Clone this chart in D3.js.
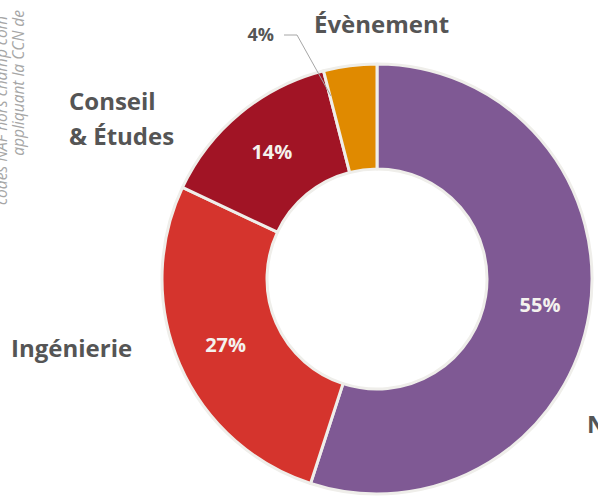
<!DOCTYPE html>
<html><head><meta charset="utf-8">
<script src="https://cdn.jsdelivr.net/npm/d3@7"></script>
<style>html,body{margin:0;padding:0;background:#fff;}svg{display:block;}</style>
</head><body>
<script>
const categories = ["Numérique", "Ingénierie", "Conseil & Études", "Évènement"];
const values = [55, 27, 14, 4];
const pctLabels = ["55%", "27%", "14%", "4%"];
const colors = ["#7F5994", "#D5342D", "#A11425", "#E08A00"];
const noteLines = ["codes NAF hors champ com", "appliquant la CCN de"];

const W = 598, H = 502;
const cx = 377, cy = 279, rOuter = 215, rInner = 110;

const svg = d3.select("body").append("svg").attr("width", W).attr("height", H);

const pie = d3.pie().sort(null).value(d => d).startAngle(0).endAngle(2 * Math.PI);
const arcs = pie(values);
const arc = d3.arc().innerRadius(rInner).outerRadius(rOuter);
const labelArc = d3.arc().innerRadius(162).outerRadius(168);

const g = svg.append("g").attr("transform", `translate(${cx},${cy})`);
g.selectAll("path.slice").data(arcs).enter().append("path")
  .attr("class", "slice")
  .attr("d", arc)
  .attr("fill", (d, i) => colors[i])
  .attr("stroke", "#EFEEEA")
  .attr("stroke-width", 3)
  .attr("stroke-linejoin", "round");

g.selectAll("text.pct").data(arcs.slice(0, 3)).enter().append("text")
  .attr("class", "pct")
  .attr("x", d => labelArc.centroid(d)[0])
  .attr("y", d => labelArc.centroid(d)[1] + 7)
  .attr("text-anchor", "middle")
  .attr("font-family", "Open Sans, sans-serif")
  .attr("font-weight", "bold")
  .attr("font-size", 20)
  .attr("fill", "#F4F2EE")
  .text((d, i) => pctLabels[i]);

const labelFont = "Open Sans, sans-serif";
const labelColor = "#555555";

svg.append("polyline")
  .attr("points", "284,35 297,35 331,96")
  .attr("fill", "none").attr("stroke", "#A6A6A6").attr("stroke-width", 1);
svg.append("text").attr("x", 274).attr("y", 41).attr("text-anchor", "end")
  .attr("font-family", labelFont).attr("font-weight", "bold").attr("font-size", 18)
  .attr("fill", labelColor).text(pctLabels[3]);
svg.append("text").attr("x", 314).attr("y", 33)
  .attr("font-family", labelFont).attr("font-weight", "bold").attr("font-size", 24)
  .attr("fill", labelColor).text(categories[3]);

const ce = svg.append("text").attr("font-family", labelFont).attr("font-weight", "bold")
  .attr("font-size", 24).attr("fill", labelColor);
ce.append("tspan").attr("x", 69).attr("y", 110).text("Conseil");
ce.append("tspan").attr("x", 69).attr("y", 145).text("& Études");

svg.append("text").attr("x", 11).attr("y", 357)
  .attr("font-family", labelFont).attr("font-weight", "bold").attr("font-size", 24)
  .attr("fill", labelColor).text(categories[1]);

svg.append("text").attr("x", 587).attr("y", 433)
  .attr("font-family", labelFont).attr("font-weight", "bold").attr("font-size", 24)
  .attr("fill", labelColor).text(categories[0]);

const note = svg.append("g");
note.append("text").attr("transform", "translate(7,205) rotate(-90)")
  .attr("text-anchor", "start")
  .attr("font-family", labelFont).attr("font-style", "italic").attr("font-size", 15.5)
  .attr("fill", "#A6A6A6").text(noteLines[0]);
note.append("text").attr("transform", "translate(24,10) rotate(-90)")
  .attr("text-anchor", "end")
  .attr("font-family", labelFont).attr("font-style", "italic").attr("font-size", 15.5)
  .attr("fill", "#A6A6A6").text(noteLines[1]);
</script>
</body></html>
